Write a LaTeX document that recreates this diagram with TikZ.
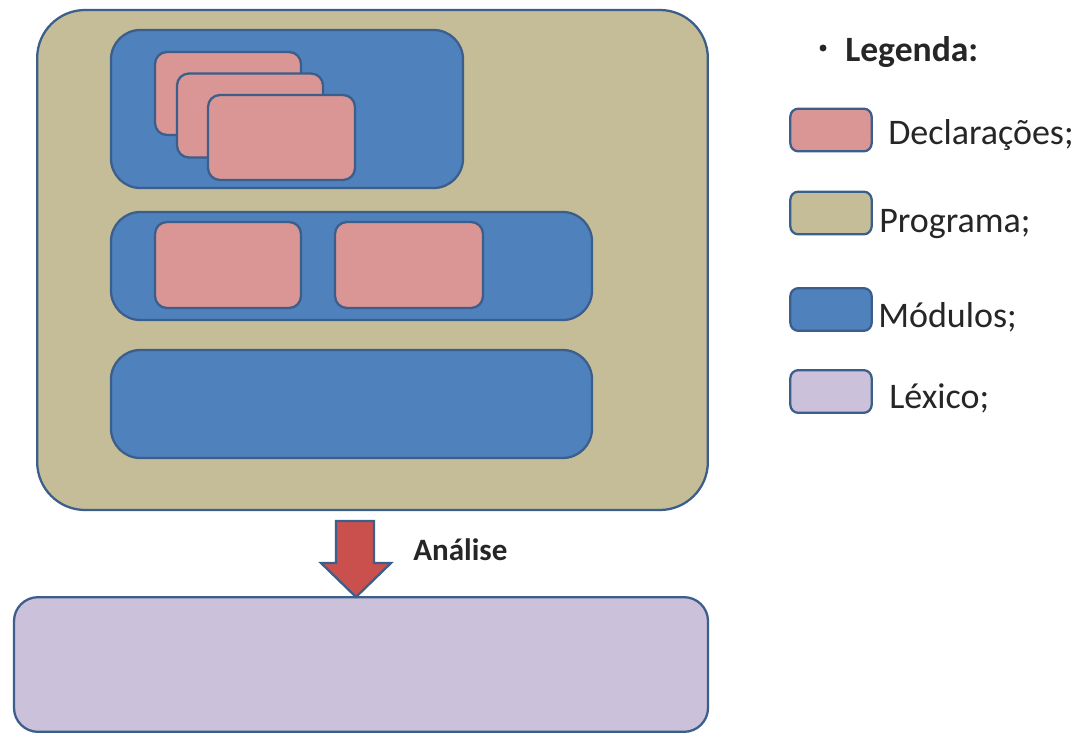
\documentclass[tikz,border=0pt]{standalone}
\usepackage{fontspec}
\setmainfont{Carlito}
\begin{document}
\begin{tikzpicture}[x=0.75pt,y=-0.75pt,
  edge/.style={draw=borderblue,line width=1.7pt},
  progbox/.style={edge,fill=progtan,rounded corners=36pt,inner sep=0pt},
  modbox/.style={edge,fill=modblue,rounded corners=22pt,inner sep=0pt},
  declbox/.style={edge,fill=declpink,rounded corners=9pt,inner sep=0pt},
  lexbox/.style={edge,fill=lexlilac,rounded corners=18pt,inner sep=0pt},
  swatch/.style={edge,rounded corners=6pt,inner sep=0pt,minimum width=61pt,minimum height=32pt},
  legtext/.style={anchor=base west,inner sep=0pt,font=\fontsize{27}{31}\selectfont,text=black!85},
]
\definecolor{borderblue}{HTML}{3B5E8A}
\definecolor{progtan}{HTML}{C4BD97}
\definecolor{modblue}{HTML}{4F81BD}
\definecolor{declpink}{HTML}{DA9694}
\definecolor{lexlilac}{HTML}{CCC1DA}
\definecolor{arrowred}{HTML}{C9504D}

\useasboundingbox (0,0) rectangle (1084,734);
\fill[white] (0,0) rectangle (1084,734);

% program with its modules
\node[progbox,minimum width=503pt,minimum height=375pt] (prog) at (372.5,260) {};
\node[modbox,minimum width=264pt,minimum height=118.5pt] (mod1) at (287,109) {};
\node[declbox,minimum width=109.5pt,minimum height=62.25pt] (d1) at (228,93.5) {};
\node[declbox,minimum width=109.5pt,minimum height=63pt] (d2) at (250,115.5) {};
\node[declbox,minimum width=110.25pt,minimum height=63.75pt] (d3) at (281.5,137.5) {};

\node[modbox,minimum width=360.75pt,minimum height=81pt] (mod2) at (351.5,266) {};
\node[declbox,minimum width=109.5pt,minimum height=64.5pt] (d4) at (228,265) {};
\node[declbox,minimum width=111pt,minimum height=64.5pt] (d5) at (409,265) {};

\node[modbox,minimum width=360.75pt,minimum height=81pt] (mod3) at (351.5,404) {};

% lexicon
\node[lexbox,minimum width=520.5pt,minimum height=101pt] (lex) at (361,664.5) {};

% analysis arrow
\draw[edge,fill=arrowred,line join=miter]
  (336,521) -- (374,521) -- (374,563) -- (391,563) -- (356,597)
  -- (321,563) -- (336,563) -- cycle;
\node[anchor=base west,inner sep=0pt,font=\bfseries\fontsize{23.3}{27}\selectfont,text=black!85]
  (analise) at (413,560) {Análise};

% legend
\fill[black!85] (823,48) circle (2.6pt);
\node[anchor=base west,inner sep=0pt,font=\bfseries\fontsize{26.7}{31}\selectfont,text=black!85]
  (leg) at (845,62) {Legenda:};
\node[swatch,fill=declpink] (sw1) at (831,130) {};
\node[swatch,fill=progtan]  (sw2) at (831,213) {};
\node[swatch,fill=modblue]  (sw3) at (831,309.5) {};
\node[swatch,fill=lexlilac] (sw4) at (831,391.5) {};
\node[legtext] (t1) at (888,145) {Declarações;};
\node[legtext] (t2) at (879,233) {Programa;};
\node[legtext] (t3) at (878,327) {Módulos;};
\node[legtext] (t4) at (889,408) {Léxico;};
\end{tikzpicture}
\end{document}
